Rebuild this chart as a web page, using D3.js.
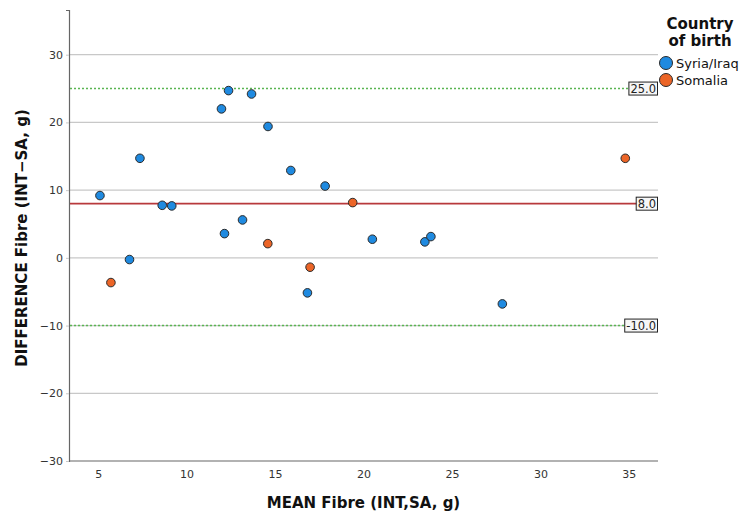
<!DOCTYPE html>
<html>
<head>
<meta charset="utf-8">
<style>
  body { margin: 0; background: #fff; }
  text { font-family: "DejaVu Sans", sans-serif; }
</style>
</head>
<body>
<svg width="742" height="514"></svg>
<script src="https://d3js.org/d3.v7.min.js"></script>
<script>

var svg = d3.select("svg");

// mean fibre (x) and difference (y), by country of birth
var syriaMean = [5.1, 7.36, 8.62, 9.16, 11.97, 12.37, 13.67, 14.6, 15.89, 17.83, 13.16, 12.14, 20.5, 23.47, 23.81, 6.77, 16.83, 27.85];
var syriaDiff = [9.2, 14.7, 7.76, 7.67, 22.0, 24.7, 24.2, 19.4, 12.9, 10.6, 5.6, 3.58, 2.75, 2.36, 3.14, -0.25, -5.17, -6.8];
var somaliaMean = [19.39, 14.59, 34.8, 5.72, 16.98];
var somaliaDiff = [8.16, 2.1, 14.7, -3.65, -1.38];

var groups = ["Syria/Iraq", "Somalia"];
var refLines = [25.0, 8.0, -10.0];
var xTicks = [5, 10, 15, 20, 25, 30, 35];
var yTicks = [30, 20, 10, 0, -10, -20, -30];

var color = d3.scaleOrdinal().domain(groups).range(["#1f8ae0", "#ec6527"]);

var plotL = 69, plotR = 658, plotT = 10, plotB = 461;

var x = d3.scaleLinear().domain([3.35, 36.65]).range([plotL, plotR]);
var y = d3.scaleLinear().domain([-30, 36.6]).range([plotB, plotT]);

// gridlines
svg.append("g")
  .selectAll("line")
  .data(yTicks.filter(function(d) { return d > -30; }))
  .enter().append("line")
    .attr("x1", plotL).attr("x2", plotR)
    .attr("y1", function(d) { return y(d); })
    .attr("y2", function(d) { return y(d); })
    .attr("stroke", "#c8c8c8")
    .attr("stroke-width", 1.2);

// axes
var yAxis = svg.append("g")
    .attr("transform", "translate(" + plotL + ",0)")
    .call(d3.axisLeft(y).tickValues(yTicks).tickSize(3).tickPadding(3).tickFormat(d3.format("d")));
var xAxis = svg.append("g")
    .attr("transform", "translate(0," + plotB + ")")
    .call(d3.axisBottom(x).tickValues(xTicks).tickSize(0).tickPadding(9));

[xAxis, yAxis].forEach(function(a) {
  a.select(".domain").attr("stroke", "#666").attr("stroke-width", 1.2);
  a.selectAll(".tick line").attr("stroke", "#c8c8c8");
  a.selectAll("text")
    .attr("font-size", 11)
    .attr("fill", "#333")
    .style("font-family", "'DejaVu Sans', sans-serif");
});
xAxis.select(".domain").attr("d", "M" + plotL + ",0H" + plotR);

// reference lines
svg.append("g")
  .selectAll("line")
  .data(refLines)
  .enter().append("line")
    .attr("x1", plotL + 1).attr("x2", plotR)
    .attr("y1", function(d) { return y(d); })
    .attr("y2", function(d) { return y(d); })
    .attr("stroke", function(d) { return d === 8 ? "#b8393c" : "#5ab552"; })
    .attr("stroke-width", 1.6)
    .attr("stroke-dasharray", function(d) { return d === 8 ? null : "2,2"; });

var labels = svg.append("g")
  .selectAll("g")
  .data(refLines)
  .enter().append("g")
    .attr("transform", function(d) { return "translate(" + plotR + "," + y(d) + ")"; });

labels.append("text")
    .attr("x", -2)
    .attr("y", 4.5)
    .attr("text-anchor", "end")
    .attr("font-size", 11.5)
    .attr("fill", "#222")
    .text(function(d) { return d.toFixed(1); })
    .each(function() {
      var b = this.getBBox();
      d3.select(this.parentNode).insert("rect", "text")
        .attr("x", b.x - 1.5)
        .attr("y", -6.5)
        .attr("width", b.width + 3)
        .attr("height", 13)
        .attr("fill", "#f6f6f6")
        .attr("stroke", "#222")
        .attr("stroke-width", 1);
    });

// points
function drawPoints(xs, ys, g) {
  svg.append("g")
    .selectAll("circle")
    .data(xs.map(function(v, i) { return [v, ys[i]]; }))
    .enter().append("circle")
      .attr("cx", function(d) { return x(d[0]); })
      .attr("cy", function(d) { return y(d[1]); })
      .attr("r", 4.3)
      .attr("fill", color(g))
      .attr("stroke", "#2a2a2a")
      .attr("stroke-width", 1);
}
drawPoints(syriaMean, syriaDiff, "Syria/Iraq");
drawPoints(somaliaMean, somaliaDiff, "Somalia");

// axis titles
svg.append("text")
    .attr("x", (plotL + plotR) / 2)
    .attr("y", 508)
    .attr("text-anchor", "middle")
    .attr("font-size", 15)
    .attr("font-weight", "bold")
    .attr("fill", "#111")
    .text("MEAN Fibre (INT,SA, g)");

svg.append("text")
    .attr("transform", "translate(27,238) rotate(-90)")
    .attr("text-anchor", "middle")
    .attr("font-size", 15)
    .attr("font-weight", "bold")
    .attr("fill", "#111")
    .text("DIFFERENCE Fibre (INT\u2212SA, g)");

// legend
var legend = svg.append("g").attr("transform", "translate(700,0)");
legend.selectAll(".title")
  .data(["Country", "of birth"])
  .enter().append("text")
    .attr("x", 0)
    .attr("y", function(d, i) { return 29 + i * 17; })
    .attr("text-anchor", "middle")
    .attr("font-size", 15)
    .attr("font-weight", "bold")
    .attr("fill", "#111")
    .text(function(d) { return d; });

var item = legend.selectAll(".item")
  .data(groups)
  .enter().append("g")
    .attr("transform", function(d, i) { return "translate(-34," + (63 + i * 17) + ")"; });
item.append("circle")
    .attr("r", 6.5)
    .attr("fill", function(d) { return color(d); })
    .attr("stroke", "#2a2a2a")
    .attr("stroke-width", 1);
item.append("text")
    .attr("x", 10)
    .attr("y", 5)
    .attr("font-size", 13)
    .attr("fill", "#111")
    .text(function(d) { return d; });

</script>
</body>
</html>
